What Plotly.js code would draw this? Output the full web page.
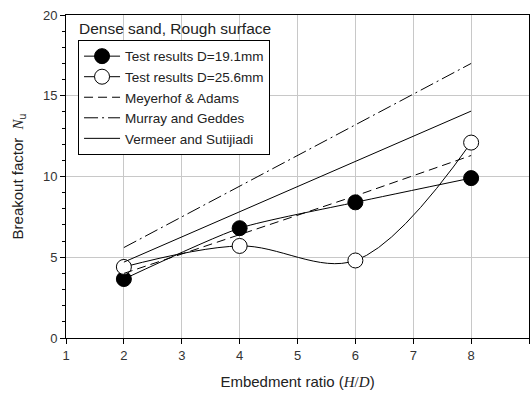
<!DOCTYPE html>
<html>
<head>
<meta charset="utf-8">
<script src="https://cdn.plot.ly/plotly-3.0.1.min.js"></script>
<style>html,body{margin:0;padding:0;background:#fff;}#chart{width:532px;height:394px;}</style>
</head>
<body>
<div id="chart"></div>
<script>
// Data
var hd = [2, 4, 6, 8];
var test191 = [3.65, 6.8, 8.4, 9.9];
var test256 = [4.4, 5.7, 4.8, 12.1];
var meyerhof = [4.0, 6.4, 8.8, 11.3];
var murray = [5.6, 17.0];
var vermeer = [4.7, 14.05];
var lineX = [2, 8];
var xTicks = [1, 2, 3, 4, 5, 6, 7, 8, 9];
var yTicks = [0, 5, 10, 15, 20];

var traces = [
  {x: hd, y: test191, name: 'Test results D=19.1mm', mode: 'lines+markers',
   line: {color: '#000', width: 1, shape: 'spline', smoothing: 0.6},
   marker: {color: '#000', size: 15, line: {color: '#000', width: 1}}},
  {x: hd, y: test256, name: 'Test results D=25.6mm', mode: 'lines+markers',
   line: {color: '#000', width: 1, shape: 'spline', smoothing: 1},
   marker: {color: '#fff', size: 15, line: {color: '#000', width: 1}}},
  {x: hd, y: meyerhof, name: 'Meyerhof & Adams', mode: 'lines',
   line: {color: '#000', width: 1, dash: '9px,5px'}},
  {x: lineX, y: murray, name: 'Murray and Geddes', mode: 'lines',
   line: {color: '#000', width: 1, dash: '14px,4px,2px,4px'}},
  {x: lineX, y: vermeer, name: 'Vermeer and Sutijiadi', mode: 'lines',
   line: {color: '#000', width: 1}}
];

var fontFam = '"Liberation Sans", Arial, sans-serif';
var layout = {
  width: 532, height: 394,
  margin: {l: 66, r: 3, t: 15, b: 56},
  paper_bgcolor: '#fff', plot_bgcolor: '#fff',
  font: {family: fontFam, size: 13, color: '#222'},
  showlegend: true,
  legend: {x: 0.026, y: 0.923, xanchor: 'left', yanchor: 'top',
    bordercolor: '#000', borderwidth: 1, bgcolor: '#fff',
    font: {family: fontFam, size: 13.5, color: '#222'}, tracegroupgap: 0, itemwidth: 36},
  xaxis: {range: [1, 9], tickvals: xTicks, ticktext: xTicks.map(String),
    showgrid: true, gridcolor: '#c8c8c8', gridwidth: 1, zeroline: false,
    showline: true, linecolor: '#000', linewidth: 1, mirror: true,
    ticks: 'outside', ticklen: 5, tickcolor: '#000',
    tickfont: {size: 13, color: '#333'},
    title: {text: 'Embedment ratio (<span style="font-family:Liberation Serif"><i>H</i>/<i>D</i></span>)',
      font: {size: 15, color: '#222'}, standoff: 14}},
  yaxis: {range: [0, 20], tickvals: yTicks, ticktext: yTicks.map(String),
    showgrid: true, gridcolor: '#c8c8c8', gridwidth: 1, zeroline: false,
    showline: true, linecolor: '#000', linewidth: 1, mirror: true,
    ticks: 'outside', ticklen: 5, tickcolor: '#000',
    minor: {dtick: 1, ticks: 'outside', ticklen: 3, tickcolor: '#000', showgrid: false},
    tickfont: {size: 13, color: '#333'},
    title: {text: 'Breakout factor  <span style="font-family:Liberation Serif"><i>N</i></span><sub>u</sub>',
      font: {size: 15, color: '#222'}, standoff: 15}},
  annotations: [{xref: 'paper', yref: 'paper', x: 0.024, y: 0.992, xanchor: 'left', yanchor: 'top',
    text: 'Dense sand, Rough surface', showarrow: false,
    font: {family: fontFam, size: 15.5, color: '#222'}}]
};

Plotly.newPlot('chart', traces, layout, {displayModeBar: false, staticPlot: true});
</script>
</body>
</html>
